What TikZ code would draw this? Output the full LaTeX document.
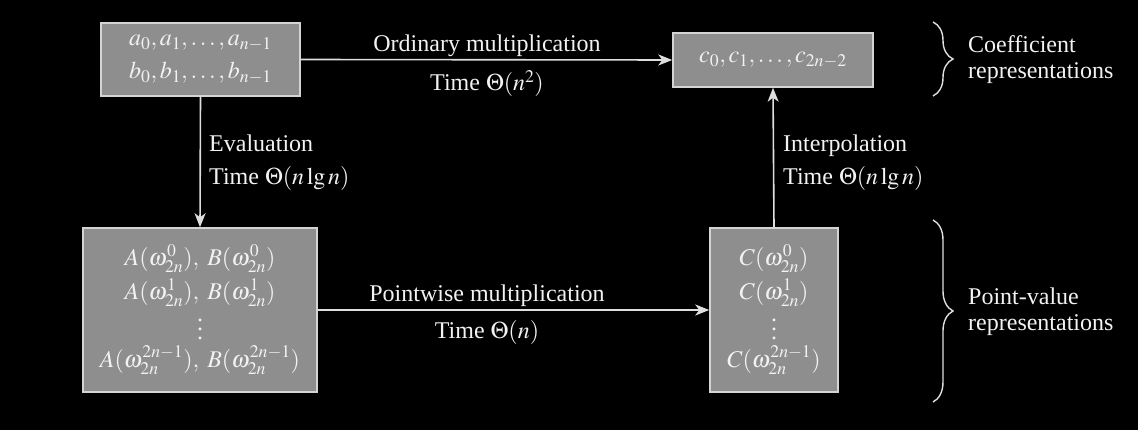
\documentclass[tikz,border=0pt]{standalone}
\usepackage{mathptmx}
\usepackage{fontspec}
\setmainfont{Liberation Serif}
\newfontfamily\repfont{Liberation Serif}
\usetikzlibrary{arrows.meta,decorations.pathreplacing}
\definecolor{boxfill}{RGB}{142,142,142}
\definecolor{boxedge}{RGB}{212,212,212}
\definecolor{inkgray}{RGB}{222,222,222}
\definecolor{inkwhite}{RGB}{242,242,242}
\newcommand\tallvdots{\lower6pt\vbox{\baselineskip9pt\lineskiplimit0pt\hbox{.}\hbox{.}\hbox{.}}}

\begin{document}
\begin{tikzpicture}[x=1pt,y=-1pt,
	rep/.style={draw=boxedge,fill=boxfill,line width=1.5pt,text=inkwhite,inner sep=0pt,align=center,font=\repfont\fontsize{24}{33}\selectfont},
	arr/.style={draw=inkgray,line width=1.6pt,-{Stealth[length=14pt,width=11pt,inset=4pt]}},
	lbl/.style={text=inkwhite,inner sep=0pt,font=\repfont\fontsize{24}{33}\selectfont},
	side/.style={text=inkwhite,inner sep=0pt,align=left,font=\repfont\fontsize{24}{26}\selectfont},
	brc/.style={draw=inkgray,line width=1.4pt,decorate,decoration={brace,amplitude=20pt}}]

	\path[fill=black,use as bounding box] (0,0) rectangle (1138,430);

	% coefficient representations
	\node[rep,minimum width=199pt,minimum height=73pt] (coefAB) at (200.5,59.5) {$a_0,a_1,\ldots,a_{n-1}$\\$b_0,b_1,\ldots,b_{n-1}$};
	\node[rep,minimum width=200pt,minimum height=54pt] (coefC) at (773,60) {$c_0,c_1,\ldots,c_{2n-2}$};

	% point-value representations
	\node[rep,minimum width=234pt,minimum height=164pt,font=\repfont\fontsize{24}{34}\selectfont] (valAB) at (200,310) {$A(\omega_{2n}^{0}),\;B(\omega_{2n}^{0})$\\$A(\omega_{2n}^{1}),\;B(\omega_{2n}^{1})$\\\tallvdots\\$A(\omega_{2n}^{2n-1}),\;B(\omega_{2n}^{2n-1})$};
	\node[rep,minimum width=128pt,minimum height=164pt,font=\repfont\fontsize{24}{34}\selectfont] (valC) at (774,310) {$C(\omega_{2n}^{0})$\\$C(\omega_{2n}^{1})$\\\tallvdots\\$C(\omega_{2n}^{2n-1})$};

	% conversions
	\draw[arr] (coefAB.east) -- (coefC.west);
	\node[lbl,anchor=base] (ordname) at (487,52) {Ordinary multiplication};
	\node[lbl,anchor=base] (ordtime) at (487,91) {Time $\Theta(n^2)$};

	\draw[arr] (coefAB.south) -- (valAB.north);
	\node[lbl,anchor=west,align=left] (evalname) at (209,163) {Evaluation\\Time $\Theta(n\lg n)$};

	\draw[arr] (valC.north) -- (coefC.south);
	\node[lbl,anchor=west,align=left] (intername) at (783,163) {Interpolation\\Time $\Theta(n\lg n)$};

	\draw[arr] (valAB.east) -- (valC.west);
	\node[lbl,anchor=base] (pwname) at (487,302) {Pointwise multiplication};
	\node[lbl,anchor=base] (pwtime) at (487,338) {Time $\Theta(n)$};

	% braces on the right
	\draw[brc] (933,22) -- (933,96);
	\node[side,anchor=west] (coefname) at (968,60) {Coefficient\\representations};
	\draw[brc] (933,220) -- (933,402);
	\node[side,anchor=west] (valname) at (968,312) {Point-value\\representations};
\end{tikzpicture}
\end{document}
